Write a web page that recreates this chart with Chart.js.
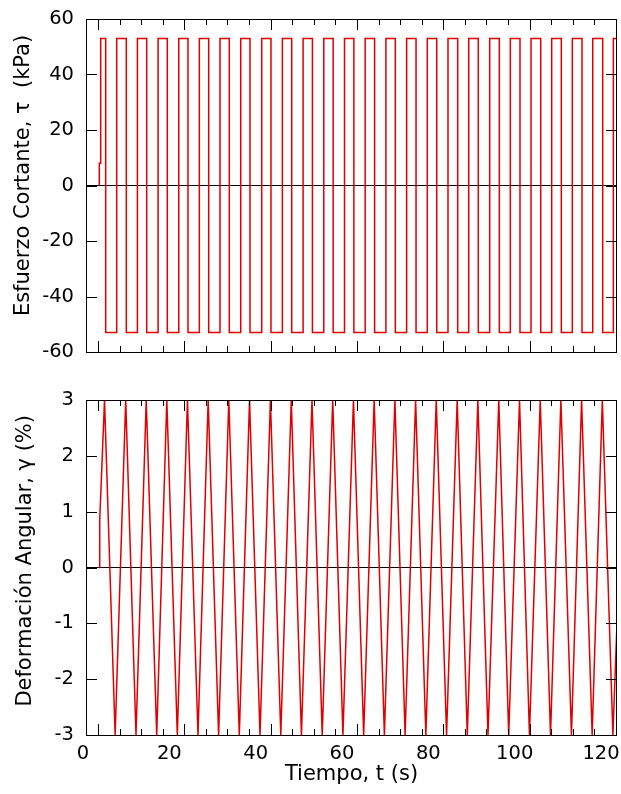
<!DOCTYPE html>
<html>
<head>
<meta charset="utf-8">
<script src="https://cdn.jsdelivr.net/npm/chart.js@4"></script>
<style>
  html, body { margin: 0; padding: 0; background: #fff; width: 621px; height: 794px; overflow: hidden; }
  .panel { position: absolute; left: 0; }
  .panel canvas { display: block; }
  #tauBox { top: 0; }
  #gammaBox { top: 380px; }
</style>
</head>
<body>
<div class="panel" id="tauBox"><canvas id="tauChart" width="621" height="372"></canvas></div>
<div class="panel" id="gammaBox"><canvas id="gammaChart" width="621" height="414"></canvas></div>
<script>
// ---- Time axis ----
const timeMin = 0;
const timeMax = 123;
const timeLabelTicks = [0, 20, 40, 60, 80, 100, 120];
const timeMarkTicks = [3, 8, 13, 18, 23, 28, 33, 38, 43, 48, 53, 58, 63, 68, 73, 78, 83, 88, 93, 98, 103, 108, 113, 118, 123];
const timeMajorMarks = [3, 23, 43, 63, 83, 103, 123];

// ---- Shear stress (kPa): square wave between the two plateaus ----
const tauTicks = [-60, -40, -20, 0, 20, 40, 60];
const tauStartTimes = [3.08, 3.08];
const tauStartValues = [0, 8];
const tauHigh = 53;
const tauLow = -53;
const tauRiseTimes = [3.40, 7.11, 11.91, 16.70, 21.49, 26.26, 31.04, 35.84, 40.70, 45.49, 50.29, 55.08, 59.88,
  64.67, 69.47, 74.27, 79.06, 83.85, 88.65, 93.51, 98.29, 103.08, 107.87, 112.65, 117.38, 122.15];
const tauFallTimes = [4.56, 9.34, 14.06, 18.83, 23.63, 28.42, 33.19, 37.99, 42.85, 47.65, 52.45, 57.25, 62.05,
  66.85, 71.65, 76.45, 81.24, 86.10, 90.87, 95.74, 100.53, 105.33, 110.10, 114.90, 119.69];
const tauEndTime = 123.0;

// ---- Shear strain (%): triangular wave ----
const gammaTicks = [-3, -2, -1, 0, 1, 2, 3];
const gammaStartTimes = [3.08, 3.18];
const gammaStartValues = [0, 0.85];
const gammaPeak = 3;
const gammaTrough = -3;
const gammaPeakTimes = [4.29, 9.20, 13.95, 18.72, 23.50, 28.30, 33.08, 37.88, 42.72, 47.55, 52.35, 57.15, 61.95,
  66.75, 71.55, 76.35, 81.13, 85.98, 90.77, 95.62, 100.42, 105.22, 110.00, 114.80, 119.60];
const gammaTroughTimes = [6.75, 11.58, 16.38, 21.15, 25.94, 30.72, 35.51, 40.31, 45.12, 49.90, 54.72, 59.52, 64.32,
  69.12, 73.92, 78.72, 83.52, 88.32, 93.12, 97.92, 102.72, 107.60, 112.45, 117.25, 122.05];
const gammaEndTime = 123.0;
const gammaEndValue = -1.0;

// ---- Build point tables for the library ----
function stepSeries(startT, startV, riseT, fallT, hi, lo, endT) {
  const events = riseT.map(t => ({ t, v: hi }))
    .concat(fallT.map(t => ({ t, v: lo })))
    .sort((a, b) => a.t - b.t);
  const pts = startT.map((t, i) => ({ x: t, y: startV[i] }));
  let cur = pts[pts.length - 1].y;
  events.forEach(e => {
    pts.push({ x: e.t, y: cur });
    pts.push({ x: e.t, y: e.v });
    cur = e.v;
  });
  pts.push({ x: endT, y: cur });
  return pts;
}

function cornerSeries(startT, startV, peakT, troughT, hi, lo, endT, endV) {
  const corners = peakT.map(t => ({ x: t, y: hi }))
    .concat(troughT.map(t => ({ x: t, y: lo })))
    .sort((a, b) => a.x - b.x);
  const pts = startT.map((t, i) => ({ x: t, y: startV[i] }));
  return pts.concat(corners, [{ x: endT, y: endV }]);
}

const tauPoints = stepSeries(tauStartTimes, tauStartValues, tauRiseTimes, tauFallTimes, tauHigh, tauLow, tauEndTime);
const gammaPoints = cornerSeries(gammaStartTimes, gammaStartValues, gammaPeakTimes, gammaTroughTimes,
  gammaPeak, gammaTrough, gammaEndTime, gammaEndValue);

// ---- Shared look ----
Chart.defaults.font.family = '"DejaVu Sans", "Liberation Sans", sans-serif';
Chart.defaults.color = '#000';
const TRACE = '#e00000';
const TICK_FONT = { size: 19.5 };
const TITLE_FONT = { size: 21 };

// Frame around the plot area with inward tick marks on all four sides
const frameTicks = {
  id: 'frameTicks',
  afterDatasetsDraw(chart) {
    const { ctx, chartArea: a, scales } = chart;
    const xs = scales.x, ys = scales.y;
    ctx.save();
    ctx.strokeStyle = '#000';
    ctx.lineWidth = 1;
    ctx.beginPath();
    timeMarkTicks.forEach(v => {
      const px = Math.round(xs.getPixelForValue(v)) - 0.5;
      const len = timeMajorMarks.includes(v) ? 11 : 6;
      ctx.moveTo(px, a.top); ctx.lineTo(px, a.top + len);
      ctx.moveTo(px, a.bottom); ctx.lineTo(px, a.bottom - len);
    });
    ys.ticks.forEach(t => {
      const py = Math.round(ys.getPixelForValue(t.value)) + 0.5;
      ctx.moveTo(a.left, py); ctx.lineTo(a.left + 11, py);
      ctx.moveTo(a.right, py); ctx.lineTo(a.right - 11, py);
    });
    ctx.stroke();
    ctx.strokeRect(a.left + 0.5, a.top + 0.5, a.right - a.left - 1, a.bottom - a.top);
    ctx.restore();
  }
};

function yAxis(min, max, tickList, titleText, titlePad) {
  return {
    type: 'linear',
    min, max,
    afterBuildTicks: s => { s.ticks = tickList.map(v => ({ value: v })); },
    afterFit: s => { s.width = 86; s.paddingTop = 0; s.paddingBottom = 0; },
    border: { display: false },
    grid: {
      drawTicks: false,
      lineWidth: 1,
      color: c => (c.tick && c.tick.value === 0) ? '#000' : 'rgba(0,0,0,0)'
    },
    ticks: { padding: 12, font: TICK_FONT, color: '#000' },
    title: { display: true, text: titleText, font: TITLE_FONT, color: '#000', padding: { top: titlePad, bottom: 0 } }
  };
}

function trace(points) {
  return {
    data: points,
    showLine: true,
    borderColor: TRACE,
    backgroundColor: TRACE,
    borderWidth: 1.5,
    pointRadius: 0,
    tension: 0,
    fill: false
  };
}

const commonOpts = {
  responsive: false,
  animation: false,
  events: [],
  plugins: { legend: { display: false }, tooltip: { enabled: false } }
};

new Chart(document.getElementById('tauChart'), {
  type: 'scatter',
  data: { datasets: [trace(tauPoints)] },
  options: Object.assign({}, commonOpts, {
    layout: { padding: { left: 0, right: 4, top: 19, bottom: 20 } },
    scales: {
      x: { type: 'linear', min: timeMin, max: timeMax, display: false },
      y: yAxis(-60, 60, tauTicks, '   Esfuerzo Cortante, τ  (kPa)', 10.7)
    }
  }),
  plugins: [frameTicks]
});

new Chart(document.getElementById('gammaChart'), {
  type: 'scatter',
  data: { datasets: [trace(gammaPoints)] },
  options: Object.assign({}, commonOpts, {
    layout: { padding: { left: 0, right: 4, top: 20, bottom: 0 } },
    scales: {
      x: {
        type: 'linear',
        min: timeMin, max: timeMax,
        afterBuildTicks: s => { s.ticks = timeLabelTicks.map(v => ({ value: v })); },
        afterFit: s => { s.height = 59; s.paddingLeft = 0; s.paddingRight = 0; },
        border: { display: false },
        grid: { display: false, drawTicks: false },
        ticks: { padding: 7, labelOffset: -3, maxRotation: 0, autoSkip: false, font: TICK_FONT, color: '#000' },
        title: { display: true, text: 'Tiempo, t (s)', font: TITLE_FONT, color: '#000', padding: { top: 0, bottom: 6.4 } }
      },
      y: yAxis(-3, 3, gammaTicks, '  Deformación Angular, γ (%)', 13.2)
    }
  }),
  plugins: [frameTicks]
});
</script>
</body>
</html>
